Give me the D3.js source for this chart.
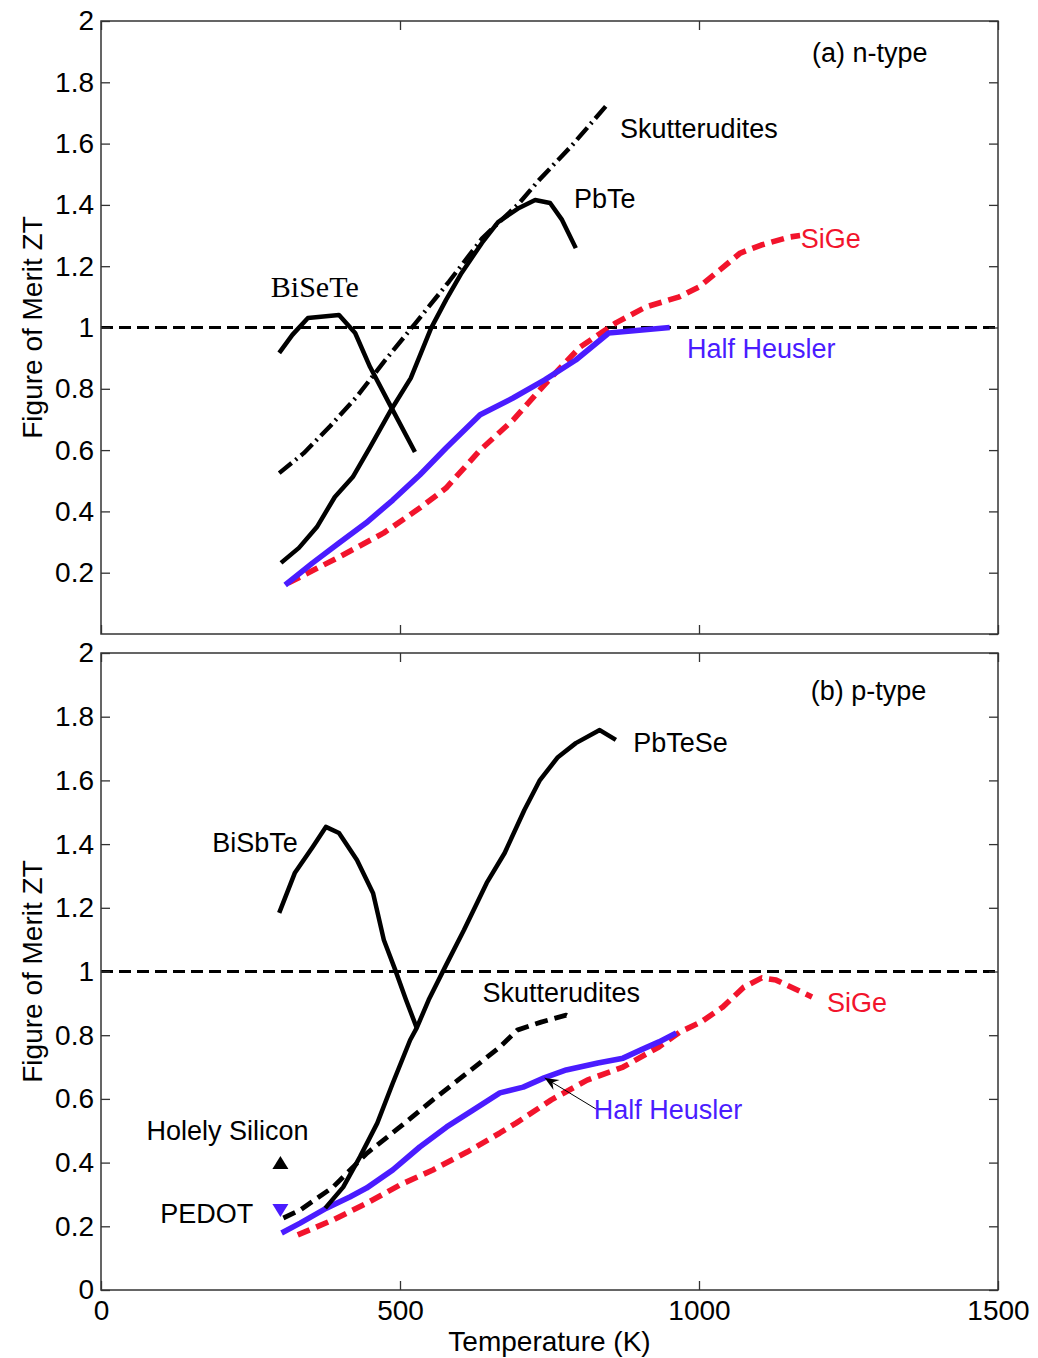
<!DOCTYPE html>
<html>
<head>
<meta charset="utf-8">
<script src="https://cdn.jsdelivr.net/npm/d3@7"></script>
<style>
  body { margin: 0; background: #fff; }
  svg { display: block; }
  text { font-family: "Liberation Sans", Arial, Helvetica, sans-serif; }
</style>
</head>
<body>
<svg id="chart" width="1038" height="1358"></svg>
<script>
// ---------- data: temperature (K) vs figure of merit ZT ----------

// (a) n-type
const nBiSeTeT   = [298, 320, 346, 398, 425, 450, 485, 525];
const nBiSeTeZT  = [0.917, 0.976, 1.031, 1.041, 0.982, 0.871, 0.741, 0.594];
const nPbTeT     = [301, 331, 361, 391, 421, 450, 485, 518, 552, 577, 603, 637, 664, 699, 726, 751, 771, 794];
const nPbTeZT    = [0.232, 0.281, 0.349, 0.447, 0.512, 0.610, 0.731, 0.835, 0.998, 1.09, 1.178, 1.276, 1.344, 1.39, 1.416, 1.406, 1.351, 1.259];
const nSkuttT    = [298, 339, 383, 428, 473, 525, 582, 637, 699, 732, 788, 846];
const nSkuttZT   = [0.525, 0.59, 0.678, 0.775, 0.888, 1.012, 1.15, 1.29, 1.405, 1.48, 1.595, 1.726];
const nHalfHeuT  = [308, 354, 398, 443, 488, 533, 577, 634, 689, 742, 794, 849, 951];
const nHalfHeuZT = [0.16, 0.232, 0.297, 0.362, 0.437, 0.519, 0.607, 0.715, 0.77, 0.829, 0.894, 0.982, 1.0];
const nSiGeT     = [313, 398, 473, 533, 577, 634, 689, 749, 801, 861, 911, 967, 1000, 1035, 1069, 1104, 1151, 1169];
const nSiGeZT    = [0.166, 0.251, 0.33, 0.411, 0.476, 0.60, 0.698, 0.829, 0.936, 1.015, 1.067, 1.10, 1.132, 1.188, 1.243, 1.269, 1.295, 1.30];

// (b) p-type
const pBiSbTeT   = [298, 324, 354, 376, 398, 428, 455, 473, 492, 510, 528];
const pBiSbTeZT  = [1.184, 1.309, 1.391, 1.454, 1.435, 1.35, 1.246, 1.099, 1.005, 0.911, 0.823];
const pPbTeSeT   = [375, 405, 433, 462, 488, 517, 528, 548, 577, 607, 645, 675, 708, 734, 764, 794, 834, 861];
const pPbTeSeZT  = [0.257, 0.323, 0.418, 0.524, 0.65, 0.785, 0.823, 0.911, 1.02, 1.13, 1.278, 1.372, 1.507, 1.601, 1.673, 1.717, 1.758, 1.727];
const pSkuttT    = [305, 333, 388, 445, 500, 555, 612, 667, 696, 736, 778, 789];
const pSkuttZT   = [0.226, 0.251, 0.323, 0.43, 0.512, 0.597, 0.681, 0.763, 0.816, 0.841, 0.863, 0.854];
const pHalfHeuT  = [302, 333, 377, 416, 444, 488, 533, 578, 622, 667, 706, 741, 778, 831, 873, 903, 933, 962];
const pHalfHeuZT = [0.179, 0.21, 0.257, 0.292, 0.32, 0.377, 0.449, 0.512, 0.565, 0.619, 0.637, 0.666, 0.691, 0.713, 0.728, 0.754, 0.779, 0.807];
const pSiGeT     = [329, 388, 445, 500, 555, 612, 667, 694, 753, 813, 873, 933, 968, 1003, 1040, 1075, 1105, 1129, 1171, 1189];
const pSiGeZT    = [0.173, 0.22, 0.273, 0.33, 0.377, 0.433, 0.493, 0.524, 0.597, 0.659, 0.70, 0.763, 0.81, 0.841, 0.889, 0.951, 0.98, 0.973, 0.936, 0.92];

// single-point materials (p-type panel)
const holelySiliconPoint = [300, 0.40];
const pedotPoint         = [300, 0.25];

// axes
const xTickValues = [0, 500, 1000, 1500];
const yTickValues = [0, 0.2, 0.4, 0.6, 0.8, 1, 1.2, 1.4, 1.6, 1.8, 2];
const referenceZT = 1;

// ---------- styles ----------
const BLACK = "#000";
const BLUE  = "#4a1cff";
const RED   = "#f2142c";
const FONT  = 28;

const styles = {
  solid:   { color: BLACK, width: 4.5, dash: null },
  dashdot: { color: BLACK, width: 4.4, dash: "16,5,2,5" },
  dashed:  { color: BLACK, width: 4.8, dash: "13,7" },
  blue:    { color: BLUE,  width: 5.6, dash: null },
  red:     { color: RED,   width: 5.6, dash: "13,7" }
};

const zip = (xs, ys) => xs.map((x, i) => [x, ys[i]]);

const panels = [
  {
    top: 21, bottom: 634, showZeroLabel: false, showXLabels: false,
    series: [
      { pts: zip(nSiGeT, nSiGeZT), style: "red" },
      { pts: zip(nHalfHeuT, nHalfHeuZT), style: "blue" },
      { pts: zip(nSkuttT, nSkuttZT), style: "dashdot" },
      { pts: zip(nBiSeTeT, nBiSeTeZT), style: "solid" },
      { pts: zip(nPbTeT, nPbTeZT), style: "solid" }
    ],
    labels: [
      { text: "(a) n-type",    at: [1189, 1.865], color: BLACK },
      { text: "Skutterudites", at: [868, 1.618],  color: BLACK },
      { text: "PbTe",          at: [791, 1.39],   color: BLACK },
      { text: "SiGe",          at: [1170, 1.259], color: RED },
      { text: "Half Heusler",  at: [980, 0.90],   color: BLUE },
      { text: "BiSeTe",        at: [284, 1.10],   color: BLACK, serif: true }
    ],
    markers: [],
    arrows: []
  },
  {
    top: 653, bottom: 1290, showZeroLabel: true, showXLabels: true,
    series: [
      { pts: zip(pSiGeT, pSiGeZT), style: "red" },
      { pts: zip(pHalfHeuT, pHalfHeuZT), style: "blue" },
      { pts: zip(pSkuttT, pSkuttZT), style: "dashed" },
      { pts: zip(pBiSbTeT, pBiSbTeZT), style: "solid" },
      { pts: zip(pPbTeSeT, pPbTeSeZT), style: "solid" }
    ],
    labels: [
      { text: "(b) p-type",     at: [1187, 1.852], color: BLACK },
      { text: "PbTeSe",         at: [890, 1.689],  color: BLACK },
      { text: "BiSbTe",         at: [186, 1.375],  color: BLACK },
      { text: "Skutterudites",  at: [638, 0.904],  color: BLACK },
      { text: "SiGe",           at: [1214, 0.873], color: RED },
      { text: "Half Heusler",   at: [824, 0.537],  color: BLUE },
      { text: "Holely Silicon", at: [76, 0.471],   color: BLACK },
      { text: "PEDOT",          at: [99, 0.21],    color: BLACK }
    ],
    markers: [
      { pt: holelySiliconPoint, type: "up",   color: BLACK },
      { pt: pedotPoint,         type: "down", color: BLUE }
    ],
    arrows: [
      { from: [828, 0.568], to: [742, 0.666] }
    ]
  }
];

// ---------- drawing ----------
const svg = d3.select("#chart");
const LEFT = 101, RIGHT = 998, TICK = 9;
const x = d3.scaleLinear().domain([0, 1500]).range([LEFT, RIGHT]);
const fmt = d => String(+(+d).toFixed(1));

panels.forEach(p => {
  const y = d3.scaleLinear().domain([0, 2]).range([p.bottom, p.top]);
  const g = svg.append("g");

  // reference line ZT = 1
  g.append("line")
    .attr("x1", x(0)).attr("x2", x(1500))
    .attr("y1", y(referenceZT)).attr("y2", y(referenceZT))
    .attr("stroke", BLACK).attr("stroke-width", 3)
    .attr("stroke-dasharray", "12,6");

  // curves
  const line = d3.line().x(d => x(d[0])).y(d => y(d[1]));
  p.series.forEach(s => {
    const st = styles[s.style];
    g.append("path")
      .attr("d", line(s.pts))
      .attr("fill", "none")
      .attr("stroke", st.color)
      .attr("stroke-width", st.width)
      .attr("stroke-linejoin", "round")
      .attr("stroke-dasharray", st.dash);
  });

  // triangle markers
  p.markers.forEach(m => {
    const cx = x(m.pt[0]), cy = y(m.pt[1]);
    const w = 8, h = 13;
    const pts = m.type === "up"
      ? [[cx, cy - h / 2], [cx + w, cy + h / 2], [cx - w, cy + h / 2]]
      : [[cx - w, cy - h / 2], [cx + w, cy - h / 2], [cx, cy + h / 2]];
    g.append("path")
      .attr("d", "M" + pts.map(q => q.join(",")).join("L") + "Z")
      .attr("fill", m.color);
  });

  // annotation arrows
  p.arrows.forEach(a => {
    const x1 = x(a.from[0]), y1 = y(a.from[1]);
    const x2 = x(a.to[0]),   y2 = y(a.to[1]);
    g.append("line")
      .attr("x1", x1).attr("y1", y1).attr("x2", x2).attr("y2", y2)
      .attr("stroke", BLACK).attr("stroke-width", 1);
    const ang = Math.atan2(y1 - y2, x1 - x2);
    const L = 15, spread = 0.4, back = 9;
    const hx1 = x2 + L * Math.cos(ang + spread), hy1 = y2 + L * Math.sin(ang + spread);
    const hx2 = x2 + L * Math.cos(ang - spread), hy2 = y2 + L * Math.sin(ang - spread);
    const nx = x2 + back * Math.cos(ang), ny = y2 + back * Math.sin(ang);
    g.append("path")
      .attr("d", `M${x2},${y2}L${hx1},${hy1}L${nx},${ny}L${hx2},${hy2}Z`)
      .attr("fill", BLACK);
  });

  // labels
  p.labels.forEach(l => {
    g.append("text")
      .attr("x", x(l.at[0])).attr("y", y(l.at[1]))
      .attr("fill", l.color)
      .style("font-size", (l.serif ? 30 : FONT - 1) + "px")
      .style("font-family", l.serif ? "'Liberation Serif', 'Times New Roman', serif" : null)
      .text(l.text);
  });

  // frame
  g.append("rect")
    .attr("x", LEFT).attr("y", p.top)
    .attr("width", RIGHT - LEFT).attr("height", p.bottom - p.top)
    .attr("fill", "none").attr("stroke", "#333").attr("stroke-width", 1.5);

  // axes with inward ticks on all four sides
  const yVals = p.showZeroLabel ? yTickValues : yTickValues.filter(v => v !== 0);
  const styleAxis = sel => {
    sel.select(".domain").remove();
    sel.selectAll(".tick line").attr("stroke", "#333").attr("stroke-width", 1.3);
    sel.selectAll(".tick text").attr("fill", BLACK).style("font-size", FONT + "px");
  };

  g.append("g").attr("transform", `translate(${LEFT},0)`)
    .call(d3.axisLeft(y).tickValues(yVals).tickSize(-TICK).tickPadding(7).tickFormat(fmt))
    .call(styleAxis);
  g.append("g").attr("transform", `translate(${RIGHT},0)`)
    .call(d3.axisRight(y).tickValues(yTickValues).tickSize(-TICK).tickFormat(""))
    .call(styleAxis);
  g.append("g").attr("transform", `translate(0,${p.bottom})`)
    .call(d3.axisBottom(x).tickValues(xTickValues).tickSize(-TICK).tickPadding(10)
      .tickFormat(p.showXLabels ? d3.format("d") : ""))
    .call(styleAxis);
  g.append("g").attr("transform", `translate(0,${p.top})`)
    .call(d3.axisTop(x).tickValues(xTickValues).tickSize(-TICK).tickFormat(""))
    .call(styleAxis);

  // y axis title
  g.append("text")
    .attr("transform", `translate(42,${(p.top + p.bottom) / 2}) rotate(-90)`)
    .attr("text-anchor", "middle")
    .style("font-size", FONT + "px")
    .text("Figure of Merit ZT");
});

// x axis title
svg.append("text")
  .attr("x", (LEFT + RIGHT) / 2).attr("y", 1351)
  .attr("text-anchor", "middle")
  .style("font-size", FONT + "px")
  .text("Temperature (K)");
</script>
</body>
</html>
